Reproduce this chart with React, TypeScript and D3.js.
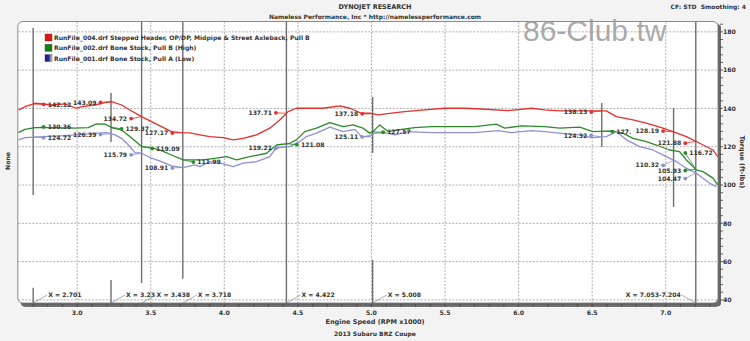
import React from "react";
import * as d3 from "d3";

const W = 750;
const H = 341;

const rpmTicks = [3.0, 3.5, 4.0, 4.5, 5.0, 5.5, 6.0, 6.5, 7.0];
const torqueTicks = [40, 60, 80, 100, 120, 140, 160, 180];

const legendNames = [
  "RunFile_004.drf Stepped Header, OP/DP, Midpipe & Street Axleback, Pull B",
  "RunFile_002.drf Bone Stock, Pull B (High)",
  "RunFile_001.drf Bone Stock, Pull A (Low)",
];
const seriesColors = ["#e3302c", "#2b8a2b", "#8f90cc"];

// [rpm x1000, torque ft-lbs]
const run004: [number, number][] = [
  [2.6, 139.1], [2.645, 140.9], [2.713, 142.7], [2.765, 142.4], [2.826, 141.8], [2.916, 142.4],
  [2.996, 140.1], [3.03, 140.9], [3.12, 141.8], [3.188, 143.0], [3.234, 143.6], [3.302, 141.8],
  [3.358, 139.2], [3.438, 135.7], [3.505, 133.1], [3.573, 130.5], [3.641, 127.9], [3.709, 127.4],
  [3.766, 127.2], [3.834, 126.2], [3.901, 125.3], [3.992, 124.8], [4.06, 123.6], [4.128, 124.4],
  [4.219, 126.2], [4.309, 129.7], [4.377, 134.0], [4.433, 138.3], [4.49, 140.1], [4.581, 140.1],
  [4.671, 140.1], [4.785, 141.3], [4.853, 140.1], [4.932, 137.5], [4.988, 137.5], [5.045, 136.6],
  [5.136, 137.5], [5.226, 138.3], [5.362, 139.2], [5.498, 140.1], [5.634, 140.1], [5.747, 139.7],
  [5.928, 138.9], [6.087, 140.1], [6.177, 139.2], [6.279, 138.7], [6.495, 138.7], [6.596, 138.7],
  [6.664, 135.7], [6.777, 134.0], [6.868, 132.3], [6.981, 129.7], [7.049, 127.9], [7.14, 125.3],
  [7.23, 121.8], [7.321, 118.3], [7.353, 114.8],
];

const run002: [number, number][] = [
  [2.6, 127.4], [2.645, 129.1], [2.713, 130.0], [2.849, 130.0], [2.984, 129.7], [3.075, 130.0],
  [3.132, 131.9], [3.188, 131.8], [3.245, 129.7], [3.302, 128.8], [3.358, 125.3], [3.438, 120.1],
  [3.505, 119.5], [3.573, 118.0], [3.641, 115.7], [3.72, 113.1], [3.8, 113.1], [3.856, 113.1],
  [3.947, 114.0], [4.015, 114.8], [4.083, 113.1], [4.173, 114.8], [4.287, 116.6], [4.355, 120.9],
  [4.445, 121.8], [4.49, 123.6], [4.547, 127.9], [4.626, 129.7], [4.717, 132.6], [4.807, 130.5],
  [4.875, 131.4], [4.943, 129.7], [4.988, 127.1], [5.011, 127.9], [5.056, 131.4], [5.113, 127.9],
  [5.181, 128.8], [5.294, 130.0], [5.408, 130.5], [5.543, 130.5], [5.702, 130.5], [5.849, 131.8],
  [5.906, 129.7], [6.019, 130.9], [6.177, 130.5], [6.279, 129.7], [6.415, 130.2], [6.505, 127.9],
  [6.637, 128.3], [6.709, 127.1], [6.777, 124.4], [6.868, 122.7], [6.936, 120.9], [7.026, 118.3],
  [7.094, 117.4], [7.14, 113.1], [7.208, 107.9], [7.253, 107.0], [7.321, 103.6], [7.353, 100.1],
];

const run001: [number, number][] = [
  [2.6, 123.6], [2.645, 124.8], [2.765, 125.3], [2.916, 125.8], [3.03, 126.5], [3.143, 127.1],
  [3.2, 127.4], [3.256, 126.2], [3.302, 124.4], [3.358, 120.1], [3.392, 116.9], [3.438, 116.6],
  [3.505, 114.0], [3.573, 112.2], [3.641, 110.0], [3.72, 109.1], [3.8, 110.5], [3.834, 109.6],
  [3.901, 112.2], [3.992, 111.0], [4.06, 109.6], [4.128, 111.4], [4.219, 112.2], [4.309, 114.8],
  [4.355, 119.7], [4.445, 120.1], [4.513, 122.7], [4.558, 125.3], [4.626, 127.1], [4.717, 130.2],
  [4.807, 127.9], [4.887, 129.1], [4.932, 125.3], [4.988, 125.3], [5.022, 127.1], [5.09, 127.4],
  [5.158, 126.2], [5.249, 127.9], [5.408, 127.4], [5.543, 127.4], [5.702, 127.4], [5.86, 128.4],
  [5.951, 127.4], [6.087, 128.4], [6.177, 127.9], [6.279, 127.1], [6.415, 126.2], [6.495, 124.8],
  [6.596, 125.3], [6.664, 127.9], [6.732, 123.6], [6.823, 120.1], [6.913, 118.3], [7.004, 114.8],
  [7.072, 112.2], [7.14, 108.8], [7.208, 106.2], [7.298, 100.9], [7.344, 99.2],
];

const runs = [run004, run002, run001];

// cursor markers (rpm) and the visible pieces of each line, in ft-lbs
const markers = [2.701, 3.23, 3.438, 3.718, 4.422, 5.008, 6.565, 7.053, 7.204];
const markerSpans: [number, number][][] = [
  [[182, 94.8], [46.3, 38.4]],
  [[148.1, 122.5], [50.4, 38.4]],
  [[185.4, 48.9]],
  [[185.4, 51.0]],
  [[185.4, 38.4]],
  [[146.0, 116.8], [60.9, 38.4]],
  [[142.9, 119.9]],
  [[140.3, 88.6]],
  [[185.4, 38.4]],
];
const markerLabels = ["X = 2.701", "X = 3.23", "X = 3.438", "X = 3.718", "X = 4.422", "X = 5.008", "", "", "X = 7.053-7.204"];

// value readouts: series, marker, value, dot side, label side (box level "at" when the readout was pushed apart)
const notes: { s: number; at: number; v: number; dot: number; side: number; text?: string; level?: number }[] = [
  { s: 0, at: 2.701, v: 142.12, dot: 1, side: 1 },
  { s: 1, at: 2.701, v: 130.36, dot: 1, side: 1 },
  { s: 2, at: 2.701, v: 124.72, dot: 1, side: 1 },
  { s: 0, at: 3.23, v: 143.09, dot: -1, side: -1 },
  { s: 1, at: 3.23, v: 129.37, dot: 1, side: 1 },
  { s: 2, at: 3.23, v: 126.39, dot: -1, side: -1 },
  { s: 0, at: 3.438, v: 134.72, dot: -1, side: -1 },
  { s: 1, at: 3.438, v: 119.09, dot: 1, side: 1 },
  { s: 2, at: 3.438, v: 115.79, dot: -1, side: -1 },
  { s: 0, at: 3.718, v: 127.17, dot: -1, side: -1 },
  { s: 1, at: 3.718, v: 111.99, dot: 1, side: 1 },
  { s: 2, at: 3.718, v: 108.91, dot: -1, side: -1 },
  { s: 0, at: 4.422, v: 137.71, dot: -1, side: -1 },
  { s: 1, at: 4.422, v: 121.08, dot: 1, side: 1 },
  { s: 2, at: 4.422, v: 119.21, dot: -1, side: -1 },
  { s: 0, at: 5.008, v: 137.18, dot: -1, side: -1 },
  { s: 1, at: 5.008, v: 127.57, dot: 1, side: 1 },
  { s: 2, at: 5.008, v: 125.11, dot: -1, side: -1 },
  { s: 0, at: 6.565, v: 138.13, dot: -1, side: -1 },
  { s: 1, at: 6.565, v: 127.9, dot: 1, side: 1, text: "127." },
  { s: 2, at: 6.565, v: 124.32, dot: -1, side: -1, level: 125.9 },
  { s: 0, at: 7.053, v: 128.19, dot: -1, side: -1 },
  { s: 2, at: 7.053, v: 110.32, dot: -1, side: -1 },
  { s: 0, at: 7.204, v: 121.88, dot: -1, side: -1 },
  { s: 1, at: 7.204, v: 116.72, dot: -1, side: 1 },
  { s: 1, at: 7.204, v: 105.93, dot: -1, side: -1, level: 107.6 },
  { s: 2, at: 7.204, v: 104.47, dot: -1, side: -1, level: 103.4 },
];

const FONT = "'DejaVu Sans', Verdana, sans-serif";

export default function App() {
  const left = 18.3, right = 718, top = 21.5, bottom = 303;
  const x = d3.scaleLinear().domain([2.6, 7.355]).range([left, right]);
  const y = d3.scaleLinear().domain([38.4, 185.4]).range([bottom, top]);

  const line = d3.line<[number, number]>().x(d => x(d[0])).y(d => y(d[1]));
  const bis = d3.bisector((d: [number, number]) => d[0]).left;
  const valueAt = (data: [number, number][], r: number) => {
    const i = Math.max(1, Math.min(data.length - 1, bis(data, r)));
    const a = data[i - 1], b = data[i];
    return a[1] + ((r - a[0]) / (b[0] - a[0])) * (b[1] - a[1]);
  };

  const minorX = d3.range(27, 74).map(v => v / 10);
  const minorY = d3.range(40, 185, 4);

  return (
    <svg width={W} height={H} style={{ position: "absolute", left: 0, top: 0 }} fontFamily={FONT}>
      <defs>
        <clipPath id="plot">
          <rect x={left} y={top} width={right - left} height={bottom - top} />
        </clipPath>
        <linearGradient id="blueBox" x1="0" x2="1">
          <stop offset="0" stopColor="#1a1a78" />
          <stop offset="0.55" stopColor="#2a2a90" />
          <stop offset="1" stopColor="#d8d8f0" />
        </linearGradient>
      </defs>
      <rect width={W} height={H} fill="#f3f3f3" />

      {/* header */}
      <text x={375} y={9} textAnchor="middle" fontSize={6.5} fontWeight="bold" fill="#333">DYNOJET RESEARCH</text>
      <text x={375} y={19} textAnchor="middle" fontSize={6} fontWeight="bold" fill="#333">
        Nameless Performance, Inc * http://namelessperformance.com
      </text>
      <text x={746} y={9} textAnchor="end" fontSize={6} fontWeight="bold" fill="#333" xmlSpace="preserve">CF: STD  Smoothing: 4</text>

      {/* frame */}
      <rect x={left + 2} y={top + 2} width={right - left + 1} height={bottom - top + 2} rx={5} fill="#777" />
      <rect x={left - 0.5} y={top} width={right - left + 0.5} height={bottom - top} rx={5} fill="#fff" stroke="#8c8c8c" strokeWidth={1} />

      {/* grid */}
      {torqueTicks.map(t => (
        <line key={"gy" + t} x1={left} x2={right + 4} y1={y(t)} y2={y(t)} stroke="#8a8a8a" strokeWidth={0.7} strokeDasharray="2,1.5" />
      ))}
      {rpmTicks.map(t => (
        <line key={"gx" + t} x1={x(t)} x2={x(t)} y1={top} y2={bottom} stroke="#8a8a8a" strokeWidth={0.7} strokeDasharray="2,1.5" />
      ))}

      {/* watermark */}
      <text x={523} y={41} fontFamily="'Liberation Sans', Arial, sans-serif" fontSize={30} fill="#9a9a9a" fillOpacity={0.85}>86-Club.tw</text>

      {/* cursor lines */}
      {markers.map((m, i) =>
        markerSpans[i].map((sp, j) => (
          <line key={"m" + i + "-" + j} x1={x(m)} x2={x(m)} y1={y(sp[0])} y2={y(sp[1])} stroke="#6e6e6e" strokeWidth={1.4} />
        ))
      )}

      {/* curves */}
      <g clipPath="url(#plot)">
        {runs.map((r, i) => (
          <path key={"c" + i} d={line(r) || ""} fill="none" stroke={seriesColors[i]} strokeWidth={1.3} strokeLinejoin="round" />
        ))}
      </g>

      {/* readouts */}
      {notes.map((n, i) => {
        const px = x(n.at) + n.dot * 10.5;
        const py = y(n.level ?? n.v);
        const cy = y(valueAt(runs[n.s], n.at));
        const tx = px + n.side * 4;
        return (
          <g key={"n" + i}>
            <line x1={px} y1={py} x2={x(n.at)} y2={cy} stroke={seriesColors[n.s]} strokeWidth={0.8} />
            <circle cx={px} cy={py} r={1.9} fill={seriesColors[n.s]} />
            <text x={tx} y={py + 2.2} textAnchor={n.side > 0 ? "start" : "end"} fontSize={6.1} fontWeight="bold" fill="#333">
              {n.text || n.v.toFixed(2)}
            </text>
          </g>
        );
      })}

      {/* legend */}
      {legendNames.map((name, i) => (
        <g key={"lg" + i}>
          <rect x={45} y={34 + i * 10.3} width={7} height={7}
            fill={i === 0 ? "#e81010" : i === 1 ? "#108010" : "url(#blueBox)"} stroke="#444" strokeWidth={0.4} />
          <text x={54} y={40 + i * 10.3} fontSize={6.1} fontWeight="bold" fill="#333">{name}</text>
        </g>
      ))}

      {/* bottom cursor labels */}
      {markers.map((m, i) => {
        const lab = markerLabels[i];
        if (!lab) return null;
        const last = i === markers.length - 1;
        const x0 = x(m);
        const dir = last ? -1 : 1;
        return (
          <g key={"ml" + i}>
            <line x1={x0} y1={bottom} x2={x0 + dir * 14} y2={bottom - 8} stroke="#777" strokeWidth={0.6} />
            <text x={x0 + dir * 15} y={bottom - 6} textAnchor={last ? "end" : "start"} fontSize={6.1} fontWeight="bold" fill="#333">{lab}</text>
          </g>
        );
      })}

      {/* axes */}
      <line x1={left + 4} x2={right + 2} y1={bottom + 1.5} y2={bottom + 1.5} stroke="#666" strokeWidth={2.5} />
      <line x1={right + 1.5} x2={right + 1.5} y1={top + 4} y2={bottom + 2} stroke="#666" strokeWidth={2.5} />
      {minorX.map(t => (
        <line key={"tx" + t} x1={x(t)} x2={x(t)} y1={bottom + 1} y2={bottom + 4} stroke="#444" strokeWidth={0.8} />
      ))}
      {minorY.map(t => (
        <line key={"ty" + t} x1={right + 2} x2={right + 5} y1={y(t)} y2={y(t)} stroke="#444" strokeWidth={0.8} />
      ))}
      {rpmTicks.map(t => (
        <text key={"lx" + t} x={x(t)} y={315} textAnchor="middle" fontSize={6.2} fontWeight="bold" fill="#333">{t.toFixed(1)}</text>
      ))}
      {torqueTicks.map(t => (
        <text key={"ly" + t} x={723} y={y(t) + 2.2} fontSize={6.2} fontWeight="bold" fill="#333">{t}</text>
      ))}

      <text x={375} y={324} textAnchor="middle" fontSize={6.5} fontWeight="bold" fill="#333">Engine Speed (RPM x1000)</text>
      <text x={375} y={336} textAnchor="middle" fontSize={6} fontWeight="bold" fill="#333">2013 Subaru BRZ Coupe</text>
      <text transform="translate(10,161) rotate(-90)" textAnchor="middle" fontSize={6.2} fontWeight="bold" fill="#333">None</text>
      <text transform="translate(740,162) rotate(90)" textAnchor="middle" fontSize={6.5} fontWeight="bold" fill="#333">Torque (ft-lbs)</text>
    </svg>
  );
}
